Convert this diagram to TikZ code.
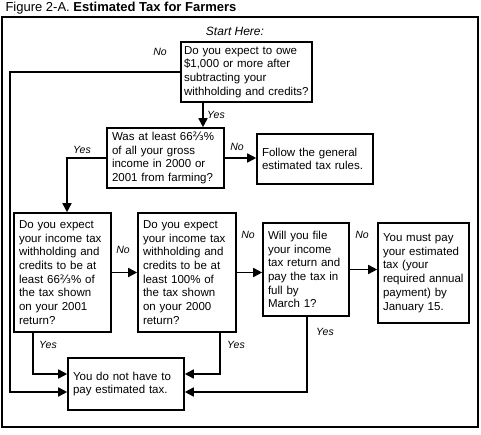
\documentclass[tikz,border=0pt]{standalone}
\usepackage{fontspec}
\setmainfont{Liberation Sans}
\newfontfamily\fracfont{DejaVu Sans}
\usetikzlibrary{arrows.meta}
\newcommand{\twothirds}{{\fracfont ⅔}}
\begin{document}
\begin{tikzpicture}[x=1pt,y=-1pt]
	\tikzset{q/.style={draw=black, line width=1.6pt, inner xsep=5pt, align=left, font=\fontsize{11.5}{13.7}\selectfont},
		f/.style={->,>={Triangle[length=9pt,width=9pt]}, line width=1.6pt},
		lb/.style={font=\fontsize{10.5}{12}\selectfont\itshape}};
	\useasboundingbox (0,0) rectangle (481,435);
	\node[anchor=base west, font=\fontsize{13}{14}\selectfont] (title) at (2,12) {Figure 2-A. \textbf{Estimated Tax for Farmers}};
	\draw[line width=1.8pt] (2,17) rectangle (478,427);
	\node[font=\fontsize{12}{13}\selectfont\itshape] (start) at (235,31) {Start Here:};

	\node[q, minimum width=131pt, text width=125pt, inner xsep=3pt, minimum height=60pt] (owe) at (246.5,72) {Do you expect to owe\\ \$1,000 or more after\\ subtracting your\\ withholding and credits?};
	\node[q, minimum width=117pt, text width=107pt, minimum height=60pt] (farm) at (165.5,158) {Was at least 66\twothirds\%\\ of all your gross\\ income in 2000 or\\ 2001 from farming?};
	\node[q, minimum width=116pt, text width=106pt, minimum height=50pt] (rules) at (315,159) {Follow the general\\ estimated tax rules.};
	\node[q, minimum width=97pt, text width=87pt, minimum height=119pt] (y01) at (62.5,272.5) {Do you expect\\ your income tax\\ withholding and\\ credits to be at\\ least 66\twothirds\% of\\ the tax shown\\ on your 2001\\ return?};
	\node[q, minimum width=98pt, text width=88pt, minimum height=119pt] (y00) at (187,272.5) {Do you expect\\ your income tax\\ withholding and\\ credits to be at\\ least 100\% of\\ the tax shown\\ on your 2000\\ return?};
	\node[q, minimum width=86pt, text width=76pt, minimum height=93pt] (march) at (306,269.5) {Will you file\\ your income\\ tax return and\\ pay the tax in\\ full by\\ March 1?};
	\node[q, minimum width=91pt, text width=81pt, minimum height=100pt] (must) at (423.5,273) {You must pay\\ your estimated\\ tax (your\\ required annual\\ payment) by\\ January 15.};
	\node[q, minimum width=116pt, text width=106pt, minimum height=52pt] (none) at (126,384) {You do not have to\\ pay estimated tax.};

	\coordinate (lft) at (10,392);

	\draw[f] ([xshift=-43.5pt]owe.south) -- ([xshift=-43.5pt]owe.south |- farm.north);
	\draw[f] (owe.west) -| (lft) -- (lft -| none.west);
	\draw[f] (farm.west) -| ([xshift=4.5pt]y01.north);
	\draw[f] (farm.east) -- (farm.east -| rules.west);
	\draw[f] (y01.east) -- (y00.west);
	\draw[f] (y00.east) -- (y00.east -| march.west);
	\draw[f] (march.east) -- (march.east -| must.west);
	\draw[f] ([xshift=-29.5pt]y01.south) |- ([yshift=10pt]none.west);
	\draw[f] ([xshift=33pt]y00.south) |- ([yshift=10pt]none.east);
	\draw[f] ([xshift=1pt]march.south) |- ([yshift=-8pt]none.east);

	\node[lb] (n1) at (160,52) {No};
	\node[lb] (y1) at (216,115) {Yes};
	\node[lb] (y2) at (82,150) {Yes};
	\node[lb] (n2) at (237,147) {No};
	\node[lb] (n3) at (123,250) {No};
	\node[lb] (n4) at (248,235) {No};
	\node[lb] (n5) at (362,235) {No};
	\node[lb] (y3) at (48,345) {Yes};
	\node[lb] (y4) at (236,345) {Yes};
	\node[lb] (y5) at (325,332) {Yes};
\end{tikzpicture}
\end{document}
